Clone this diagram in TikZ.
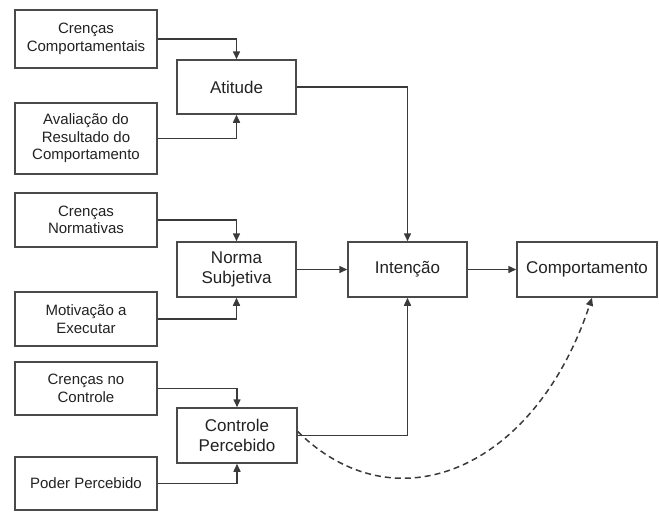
\documentclass[tikz,border=0pt]{standalone}
\usepackage{fontspec}
\setmainfont{Liberation Sans}
\usetikzlibrary{arrows.meta}
\definecolor{edge}{HTML}{3A3A3A}
\definecolor{frame}{HTML}{4A4A4A}
\definecolor{ink}{HTML}{222222}
\begin{document}
\begin{tikzpicture}[x=1pt,y=-1pt,
  box/.style={draw=frame,line width=1.5pt,fill=white,text=ink,align=center,inner sep=0pt},
  src/.style={box,minimum width=142pt,font=\fontsize{15}{17.5}\selectfont},
  core/.style={box,minimum width=119pt,minimum height=55pt,font=\fontsize{17}{20}\selectfont},
  link/.style={draw=edge,line width=1.5pt,-{Triangle[length=8pt,width=7pt]}},
  dashlink/.style={link,dashed,dash pattern=on 6pt off 4pt}]
\useasboundingbox (0,0) rectangle (659,512);

% belief / evaluation boxes on the left
\node[src,minimum height=58pt] (cc) at (86,39) {Crenças\\Comportamentais};
\node[src,minimum height=71pt] (ar) at (86,138.5) {Avaliação do\\Resultado do\\Comportamento};
\node[src,minimum height=54pt] (cn) at (86,220) {Crenças\\Normativas};
\node[src,minimum height=54pt] (me) at (86,319) {Motivação a\\Executar};
\node[src,minimum height=53pt] (cc2) at (86,388.5) {Crenças no\\Controle};
\node[src,minimum height=53pt] (pp) at (86,483.5) {Poder Percebido};

% intermediate constructs
\node[core,minimum height=54pt] (at) at (236.5,87) {Atitude};
\node[core] (ns) at (236.5,269.5) {Norma\\Subjetiva};
\node[core,minimum width=120pt] (cp) at (237,435.5) {Controle\\Percebido};

% intention and behaviour
\node[core] (in) at (407.5,269.5) {Intenção};
\node[core,minimum width=140pt] (co) at (587,269.5) {Comportamento};

% inputs into the constructs
\draw[link] (cc.east) -| (at.north);
\draw[link] (ar.east) -| (at.south);
\draw[link] (cn.east) -| (ns.north);
\draw[link] (me.east) -| (ns.south);
\draw[link] (cc2.east) -| (cp.north);
\draw[link] (pp.east) -| (cp.south);

% constructs into intention
\draw[link] (at.east) -| (in.north);
\draw[link] (ns.east) -- (in.west);
\draw[link] (cp.east) -| (in.south);
\draw[link] (in.east) -- (co.west);

% direct effect of perceived control on behaviour
\coordinate (cpout) at ([yshift=4pt]cp.east);
\coordinate (coin) at ([xshift=5pt]co.south);
\draw[dashlink] (cpout) .. controls (395,528) and (535,470) .. (coin);
\end{tikzpicture}
\end{document}
